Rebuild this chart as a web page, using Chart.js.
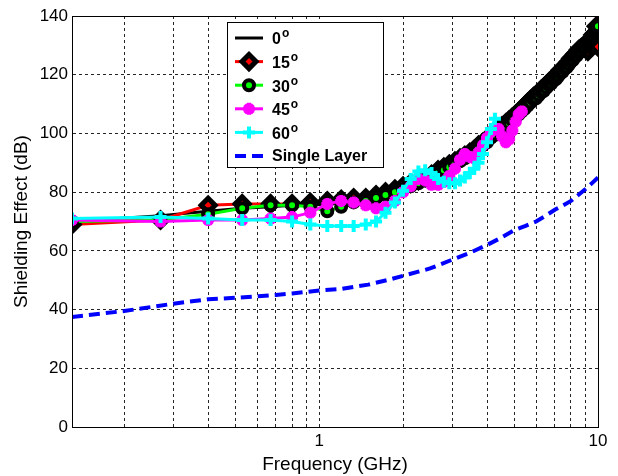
<!DOCTYPE html>
<html>
<head>
<meta charset="utf-8">
<script src="https://cdn.jsdelivr.net/npm/chart.js@4/dist/chart.umd.min.js"></script>
<style>
  body { margin: 0; background: #fff; }
  #wrap { width: 618px; height: 476px; }
</style>
</head>
<body>
<div id="wrap"><canvas id="chart" width="618" height="476"></canvas></div>
<script>
//////////////// DATA
const freqGHz = [
  0.13, 0.27, 0.40, 0.53, 0.67, 0.80, 0.93, 1.07, 1.20, 1.33,
  1.47, 1.60, 1.73, 1.87, 2.00, 2.13, 2.27, 2.40, 2.53, 2.67,
  2.80, 2.93, 3.07, 3.20, 3.33, 3.47, 3.60, 3.73, 3.87, 4.00,
  4.13, 4.27, 4.40, 4.53, 4.67, 4.80, 4.93, 5.07, 5.20, 5.33,
  5.47, 5.60, 5.73, 5.87, 6.00, 6.13, 6.27, 6.40, 6.53, 6.67,
  6.80, 6.93, 7.07, 7.20, 7.33, 7.47, 7.60, 7.73, 7.87, 8.00,
  8.13, 8.27, 8.40, 8.53, 8.67, 8.80, 8.93, 9.07, 9.20, 9.33,
  9.47, 9.60, 9.73, 9.87, 10.00
];

const se0 = [
  70, 72, 73.5, 74.5, 75, 75.5, 75.5, 76, 76.5, 77,
  77.5, 78.5, 79.5, 80.5, 81.5, 82.5, 83.5, 84.5, 85.5, 87,
  88, 89, 90, 91, 92, 93, 94, 95.5, 96.5, 97.5,
  99, 100, 101, 102, 103, 104, 105, 106, 107, 108,
  109, 110, 111, 112, 112.5, 113.5, 114.5, 115, 116, 117,
  117.5, 118.5, 119, 120, 121, 121.5, 122.5, 123, 124, 125,
  125.5, 126.5, 127, 128, 128.5, 129.5, 130, 131, 131.5, 132.5,
  133.5, 134, 135, 136, 137
];

const se15 = [
  69, 70.5, 75.5, 76, 76, 76, 76.5, 77, 77.5, 78,
  78, 79, 80, 81, 82, 83, 84, 85, 86, 87.5,
  88.5, 89.5, 90.5, 91.5, 92.5, 93.5, 94.5, 96, 97, 98,
  99.5, 100.5, 101.5, 102.5, 103.5, 104.5, 105.5, 106.5, 107.5, 108.5,
  109.5, 110.5, 111.5, 112.5, 113, 114, 115, 115.5, 116.5, 117.5,
  118, 119, 119.5, 120.5, 121.5, 122, 123, 123.5, 124.5, 125.5,
  126, 127, 127.5, 128.5, 129, 129.5, 130, 130.5, 128, 130,
  132, 133.5, 134, 136.5, 129.5
];

const se30 = [
  70, 70.5, 72.5, 74.5, 75.5, 75.5, 75, 73.5, 75, 76.5,
  77, 78, 79, 80, 81, 82, 83, 84, 85, 86.5,
  87.5, 88.5, 89.5, 90.5, 91.5, 92.5, 93.5, 95, 96, 97,
  98.5, 99.5, 100.5, 101.5, 102.5, 103.5, 104.5, 105.5, 106.5, 107.5,
  108.5, 109.5, 110.5, 111.5, 112, 113, 114, 114.5, 115.5, 116.5,
  117, 118, 118.5, 119.5, 120.5, 121, 122, 122.5, 123.5, 124.5,
  125, 126, 126.5, 127.5, 128, 129, 129.5, 130.5, 131, 132,
  133, 133.5, 134.5, 135.5, 136.5
];

const se45 = [
  70.5, 70, 70.5, 70.5, 71, 71.5, 73, 76, 77, 76.5,
  75.5, 74.5, 75, 77, 80, 82, 84.5, 84, 82.5, 82.5,
  83.5, 85.5, 88, 91, 93, 92, 91.5, 93.5, 96, 98.5,
  100.5, 101.5, 101.5, 99, 97, 98, 101, 104, 106.5, 107.5
];

const se60 = [
  71, 71.5, 71, 70.5, 70.5, 70, 69, 68.5, 68.5, 68.5,
  69, 70, 73, 76.5, 80.5, 84.5, 87, 87.5, 86.5, 84.5,
  83.5, 83, 83, 84, 85, 86.5, 88, 90, 93, 97,
  101.5, 105
];

const singleFreqGHz = [0.13, 0.2, 0.3, 0.4, 0.5, 0.6, 0.7, 0.8, 0.9, 1.0,
  1.2, 1.5, 1.75, 2, 2.5, 3, 3.5, 4, 4.5, 5, 5.5, 6, 6.5, 7, 7.5, 8, 8.5, 9, 9.5, 10];
const seSingle = [37.5, 39.5, 42, 43.5, 44, 44.5, 45, 45.5, 46, 46.5,
  47, 48.5, 50, 51.5, 54, 57, 59.5, 62, 64.5, 67, 68.5, 70, 72, 74, 75.5, 77, 79, 81, 83, 85];

const legendLabels = ['0°', '15°', '30°', '45°', '60°', 'Single Layer'];
const xGridValues = [0.2, 0.3, 0.4, 0.5, 0.6, 0.7, 0.8, 0.9, 1, 2, 3, 4, 5, 6, 7, 8, 9, 10];
const xLabelValues = [1, 10];

//////////////// CHART
Chart.defaults.font.family = '"Liberation Sans", Arial, sans-serif';
Chart.defaults.color = '#000';

function toPoints(xs, ys) {
  return ys.map((y, i) => ({ x: xs[i], y: y }));
}

const dataSets = [
  { label: legendLabels[0], data: toPoints(freqGHz, se0), borderColor: '#000', borderWidth: 3,
    pointRadius: 0, order: 6 },
  { label: legendLabels[1], data: toPoints(freqGHz, se15), borderColor: '#ff0000', borderWidth: 3,
    pointStyle: 'rectRot', pointRadius: 7, pointBackgroundColor: '#ff0000',
    pointBorderColor: '#000', pointBorderWidth: 5, order: 5 },
  { label: legendLabels[2], data: toPoints(freqGHz, se30), borderColor: '#00ff00', borderWidth: 3,
    pointStyle: 'circle', pointRadius: 5, pointBackgroundColor: '#00ff00',
    pointBorderColor: '#000', pointBorderWidth: 4, order: 4 },
  { label: legendLabels[3], data: toPoints(freqGHz, se45), borderColor: '#ff00ff', borderWidth: 3,
    pointStyle: 'star', pointRadius: 6, pointBackgroundColor: '#ff00ff',
    pointBorderColor: '#ff00ff', pointBorderWidth: 4, order: 3 },
  { label: legendLabels[4], data: toPoints(freqGHz, se60), borderColor: '#00ffff', borderWidth: 3,
    pointStyle: 'cross', pointRadius: 6, pointBackgroundColor: '#00ffff',
    pointBorderColor: '#00ffff', pointBorderWidth: 4, order: 2 },
  { label: legendLabels[5], data: toPoints(singleFreqGHz, seSingle), borderColor: '#0000ff', borderWidth: 4,
    borderDash: [11, 6], pointRadius: 0, order: 1 },
];

// frame round the plot + matlab style legend box
const frameAndLegend = {
  id: 'frameAndLegend',
  afterDraw(chart) {
    const { ctx, chartArea: a } = chart;
    ctx.save();
    ctx.strokeStyle = '#000';
    ctx.lineWidth = 1;
    ctx.setLineDash([]);
    ctx.strokeRect(a.left + 0.5, a.top + 0.5, a.right - a.left, a.bottom - a.top);

    const box = { x: 227, y: 22, w: 156, h: 145 };
    ctx.fillStyle = '#fff';
    ctx.fillRect(box.x, box.y, box.w, box.h);
    ctx.strokeStyle = '#000';
    ctx.strokeRect(box.x + 0.5, box.y + 0.5, box.w, box.h);

    const rowH = 23.6;
    dataSets.forEach((ds, i) => {
      const y = box.y + 16 + i * rowH;
      ctx.save();
      ctx.strokeStyle = ds.borderColor;
      ctx.lineWidth = ds.borderWidth;
      ctx.setLineDash(ds.borderDash || []);
      ctx.beginPath();
      ctx.moveTo(box.x + 8, y);
      ctx.lineTo(box.x + 36, y);
      ctx.stroke();
      ctx.setLineDash([]);
      if (ds.pointRadius) {
        ctx.fillStyle = ds.pointBackgroundColor;
        ctx.strokeStyle = ds.pointBorderColor;
        ctx.lineWidth = ds.pointBorderWidth;
        Chart.helpers.drawPoint(ctx, {
          pointStyle: ds.pointStyle, radius: ds.pointRadius, rotation: 0,
          borderWidth: ds.pointBorderWidth
        }, box.x + 22, y);
      }
      ctx.restore();

      ctx.fillStyle = '#000';
      ctx.textBaseline = 'middle';
      ctx.textAlign = 'left';
      const tx = box.x + 45;
      if (ds.label.endsWith('°')) {
        const num = ds.label.slice(0, -1);
        ctx.font = 'bold 16px "Liberation Sans", Arial, sans-serif';
        ctx.fillText(num, tx, y + 2);
        const w = ctx.measureText(num).width;
        ctx.font = 'bold 12px "Liberation Sans", Arial, sans-serif';
        ctx.fillText('o', tx + w + 1, y - 4);
      } else {
        ctx.font = 'bold 16px "Liberation Sans", Arial, sans-serif';
        ctx.fillText(ds.label, tx, y + 1);
      }
    });
    ctx.restore();
  }
};

new Chart(document.getElementById('chart').getContext('2d'), {
  type: 'line',
  data: { datasets: dataSets },
  plugins: [frameAndLegend],
  options: {
    responsive: false,
    animation: false,
    layout: { padding: { top: 16, right: 20, left: 0, bottom: 0 } },
    plugins: { legend: { display: false }, tooltip: { enabled: false } },
    elements: { line: { tension: 0 } },
    scales: {
      x: {
        type: 'logarithmic',
        min: 0.13,
        max: 10,
        afterBuildTicks: (s) => { s.ticks = xGridValues.map(v => ({ value: v })); },
        afterFit: (s) => { s.height = 49; },
        grid: { color: 'rgba(0,0,0,0.85)', lineWidth: 1, drawTicks: false },
        border: { display: true, color: '#000', dash: [3, 3] },
        ticks: {
          autoSkip: false, maxRotation: 0, padding: 4,
          font: { size: 17 },
          callback: (v) => xLabelValues.includes(v) ? String(v) : ''
        },
        title: { display: true, text: 'Frequency (GHz)', font: { size: 19 }, padding: { top: 0, bottom: 0 } }
      },
      y: {
        min: 0,
        max: 140,
        afterFit: (s) => { s.width = 72; },
        grid: { color: 'rgba(0,0,0,0.85)', lineWidth: 1, drawTicks: false },
        border: { display: true, color: '#000', dash: [3, 3] },
        ticks: { stepSize: 20, padding: 4, font: { size: 17 } },
        title: { display: true, text: 'Shielding Effect (dB)', font: { size: 19 }, padding: { top: 10, bottom: 0 } }
      }
    }
  }
});
</script>
</body>
</html>
